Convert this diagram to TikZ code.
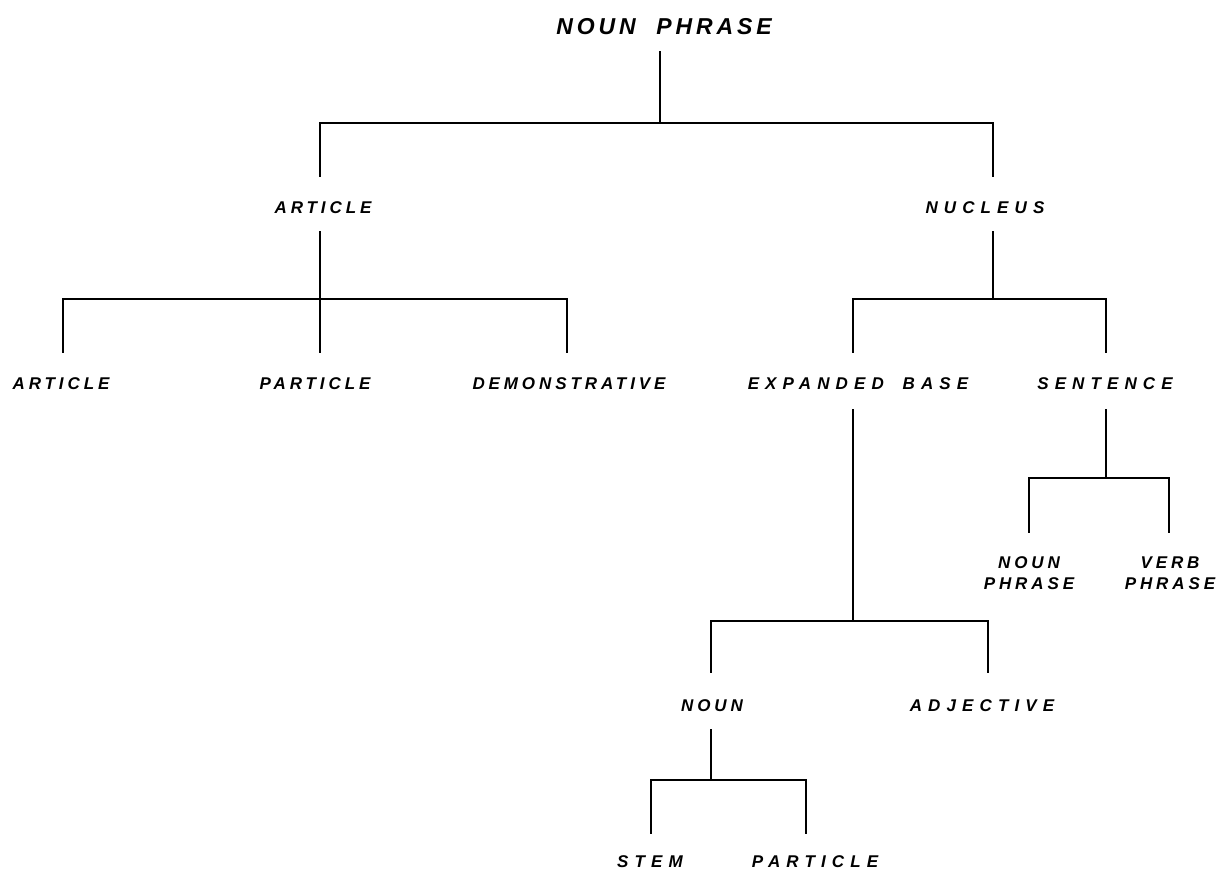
\documentclass[tikz,border=0pt]{standalone}
\usepackage{fontspec}
\setmainfont{Liberation Sans}
\newfontfamily\lblfont{Liberation Sans}[LetterSpace=23]
\newfontfamily\lblwfont{Liberation Sans}[LetterSpace=36]
\newfontfamily\ttlfont{Liberation Sans}[LetterSpace=17]
\begin{document}
\begin{tikzpicture}[x=1pt,y=-1pt,
  lbl/.style={inner sep=0pt,anchor=center,font=\lblfont\bfseries\itshape\fontsize{17}{21}\selectfont,align=center},
  lblw/.style={lbl,font=\lblwfont\bfseries\itshape\fontsize{17}{21}\selectfont},
  ttl/.style={inner sep=0pt,anchor=center,font=\ttlfont\itshape\bfseries\fontsize{23}{27}\selectfont},
  tree/.style={line width=1.5pt,line cap=rect,line join=miter}]
\useasboundingbox (0,0) rectangle (1218,873);
% labels
\node[ttl] (np) at (664,27) {NOUN\ \ PHRASE};
\node[lbl] (art) at (323,208) {ARTICLE};
\node[lblw] (nuc) at (985,208) {NUCLEUS};
\node[lbl] (art2) at (61,384) {ARTICLE};
\node[lbl] (par1) at (315,384) {PARTICLE};
\node[lbl] (dem) at (569,384) {DEMONSTRATIVE};
\node[lblw] (exb) at (858,384) {EXPANDED\hspace{8pt} BASE};
\node[lblw] (sen) at (1105,384) {SENTENCE};
\node[lbl] (np2) at (1029,573) {NOUN\\PHRASE};
\node[lbl] (vp) at (1170,573) {VERB\\PHRASE};
\node[lbl] (noun) at (712,706) {NOUN};
\node[lblw] (adj) at (982,706) {ADJECTIVE};
\node[lblw] (stem) at (650,862) {STEM};
\node[lblw] (par2) at (815,862) {PARTICLE};
% line ends
\coordinate (npB) at (660,52);
\coordinate (j0) at (660,123);
\coordinate (artT) at (320,176);
\coordinate (nucT) at (993,176);
\coordinate (artB) at (320,232);
\coordinate (j1) at (320,299);
\coordinate (art2T) at (63,352);
\coordinate (par1T) at (320,352);
\coordinate (demT) at (567,352);
\coordinate (nucB) at (993,232);
\coordinate (j2) at (993,299);
\coordinate (exbT) at (853,352);
\coordinate (senT) at (1106,352);
\coordinate (exbB) at (853,410);
\coordinate (j3) at (853,621);
\coordinate (nounT) at (711,672);
\coordinate (adjT) at (988,672);
\coordinate (senB) at (1106,410);
\coordinate (j4) at (1106,478);
\coordinate (np2T) at (1029,532);
\coordinate (vpT) at (1169,532);
\coordinate (nounB) at (711,730);
\coordinate (j5) at (711,780);
\coordinate (stemT) at (651,833);
\coordinate (par2T) at (806,833);
% connectors
\draw[tree] (npB) -- (j0);
\draw[tree] (artT) |- (j0) -| (nucT);
\draw[tree] (artB) -- (par1T);
\draw[tree] (art2T) |- (j1) -| (demT);
\draw[tree] (nucB) -- (j2);
\draw[tree] (exbT) |- (j2) -| (senT);
\draw[tree] (exbB) -- (j3);
\draw[tree] (nounT) |- (j3) -| (adjT);
\draw[tree] (senB) -- (j4);
\draw[tree] (np2T) |- (j4) -| (vpT);
\draw[tree] (nounB) -- (j5);
\draw[tree] (stemT) |- (j5) -| (par2T);
\end{tikzpicture}
\end{document}
